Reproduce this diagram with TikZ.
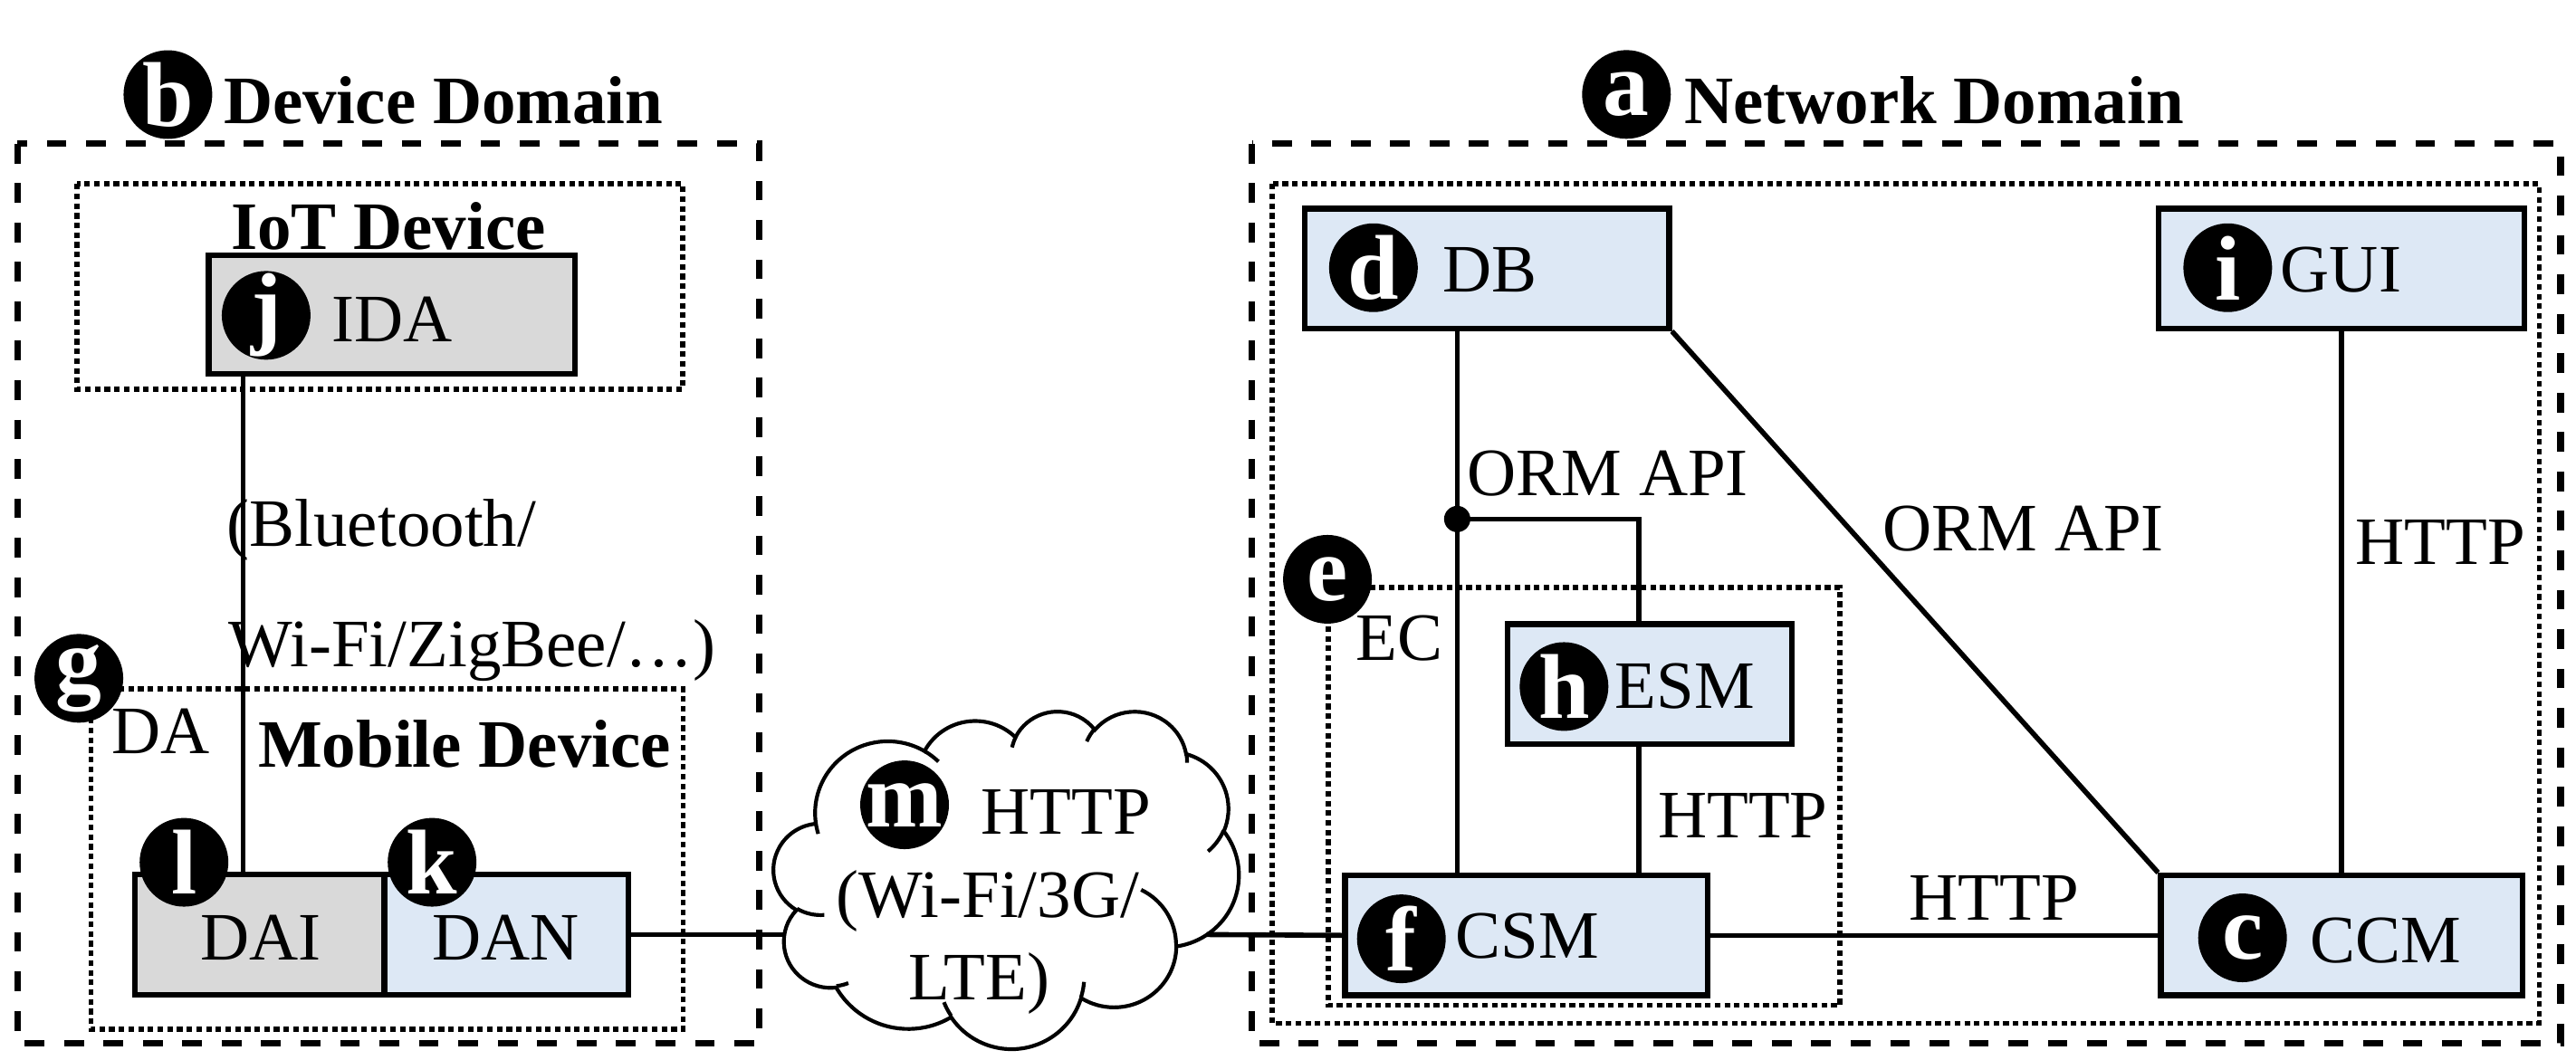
\documentclass[tikz,border=0pt]{standalone}
\usepackage{fontspec}
\setmainfont{Liberation Serif}
\definecolor{boxblue}{HTML}{DDE8F5}
\definecolor{boxgray}{HTML}{D9D9D9}
\begin{document}
\begin{tikzpicture}[x=1pt,y=-1pt,
  txt/.style={inner sep=0pt, anchor=base west, font=\fontsize{41.3}{48}\selectfont},
  ttl/.style={inner sep=0pt, anchor=base west, font=\fontsize{41.3}{48}\selectfont\bfseries},
  comp/.style={draw, line width=3.4pt, rectangle, inner sep=0pt},
  bluebox/.style={comp, fill=boxblue},
  graybox/.style={comp, fill=boxgray},
  badge/.style={circle, fill=black, inner sep=0pt, minimum size=54pt, text=white, font=\fontsize{56}{60}\selectfont\bfseries},
  domainbox/.style={draw, line width=3.9pt, dash pattern=on 12pt off 12pt},
  groupbox/.style={draw, line width=3.1pt, dash pattern=on 3.4pt off 2.5pt},
  conn/.style={line width=3.1pt},
]
\useasboundingbox (0,0) rectangle (1568,645);

% ---------- containers ----------
\draw[domainbox] (10.5,87.5) rectangle (462,635);
\draw[domainbox] (762,87.5) rectangle (1558.6,635);
\draw[groupbox] (47,112) rectangle (415.6,237);
\draw[groupbox] (55.3,419.5) rectangle (415.8,626.7);
\draw[groupbox] (774.5,112) rectangle (1545.6,623);
\draw[groupbox] (808.4,357.7) rectangle (1120,612);

% ---------- titles ----------
\node[ttl] (devtitle) at (136,75.5) {Device Domain};
\node[ttl] (nettitle) at (1025,75.5) {Network Domain};
\node[ttl] (iottitle) at (140.5,151.6) {IoT Device};
\node[ttl] (mobtitle) at (157,467) {Mobile Device};
\node[txt] (datitle) at (68,459) {DA};
\node[txt] (ectitle) at (825,402) {EC};

% ---------- component boxes ----------
\node[graybox, minimum width=223pt, minimum height=72pt] (IDA) at (238.5,191.5) {};
\node[graybox, minimum width=152pt, minimum height=73pt] (DAI) at (158,569) {};
\node[bluebox, minimum width=148.5pt, minimum height=73pt] (DAN) at (308.25,569) {};
\node[bluebox, minimum width=222pt, minimum height=73pt] (DB) at (905,163.5) {};
\node[bluebox, minimum width=222.6pt, minimum height=73pt] (GUI) at (1425.3,163.5) {};
\node[bluebox, minimum width=173pt, minimum height=73pt] (ESM) at (1004,416.5) {};
\node[bluebox, minimum width=220.5pt, minimum height=73pt] (CSM) at (929,569.5) {};
\node[bluebox, minimum width=220pt, minimum height=73pt] (CCM) at (1425.3,569.5) {};

% ---------- cloud ----------
\begin{scope}[shift={(471,432.6)}, x=0.6551pt, y=-0.4755pt]
\draw[line width=2.3pt, fill=white] (39.00,143.70)
  arc[start angle=-187.75, end angle=-59.64, x radius=67.53, y radius=91.90]
  arc[start angle=-152.02, end angle=-45.46, x radius=53.33, y radius=72.67]
  arc[start angle=-153.48, end angle=-37.32, x radius=43.65, y radius=59.45]
  arc[start angle=-139.69, end angle=-10.21, x radius=48.57, y radius=65.95]
  arc[start angle=-74.77, end angle=23.21, x radius=53.33, y radius=72.73]
  arc[start angle=-37.53, end angle=81.86, x radius=67.75, y radius=92.20]
  arc[start angle=0.46, end angle=121.98, x radius=57.85, y radius=78.67]
  arc[start angle=16.84, end angle=146.24, x radius=67.52, y radius=92.15]
  arc[start angle=58.98, end angle=150.20, x radius=77.20, y radius=105.43]
  arc[start angle=-276.69, end angle=-136.90, x radius=43.60, y radius=59.18]
  arc[start angle=-239.64, end angle=-95.89, x radius=43.45, y radius=59.45]
  -- cycle;
\draw[line width=2.3pt]
  (46.93,261.77) arc[start angle=85.55, end angle=120.36, x radius=43.45, y radius=59.45]
  (69.28,348.99) arc[start angle=68.23, end angle=83.30, x radius=43.60, y radius=59.18]
  (164.78,390.90) arc[start angle=146.24, end angle=158.47, x radius=67.52, y radius=92.15]
  (288.27,347.51) arc[start angle=4.74, end angle=16.84, x radius=67.52, y radius=92.15]
  (341.29,229.54) arc[start angle=-64.03, end angle=0.46, x radius=57.85, y radius=78.67]
  (417.98,153.54) arc[start angle=23.21, end angle=49.64, x radius=53.33, y radius=72.73]
  (383.24,54.26) arc[start angle=-10.21, end angle=0.82, x radius=48.57, y radius=65.95]
  (290.78,39.52) arc[start angle=-156.29, end angle=-139.69, x radius=48.57, y radius=65.95]
  (221.41,47.20) arc[start angle=-167.73, end angle=-153.48, x radius=43.65, y radius=59.45]
  (140.00,51.92) arc[start angle=-59.64, end angle=-45.74, x radius=67.53, y radius=91.90]
  (41.27,157.89) arc[start angle=163.19, end angle=172.26, x radius=67.53, y radius=91.90];
\end{scope}
\coordinate (cloudL) at (477,569);
\coordinate (cloudR) at (734.5,569);
\node[txt] (cloudt1) at (597,508) {HTTP};
\node[txt] (cloudt2) at (509,558.5) {(Wi-Fi/3G/};
\node[txt] (cloudt3) at (553,609) {LTE)};

% ---------- connectors ----------
\coordinate (iotx) at (148,0);
\coordinate (jn) at (887,316);
\coordinate (esmx) at (997.5,0);
\draw[conn] (iotx |- IDA.south) -- (iotx |- DAI.north);
\draw[conn] (DAN.east) -- (cloudL);
\draw[conn] (cloudR) -- (CSM.west);
\draw[conn] (jn |- DB.south) -- (jn |- CSM.north);
\draw[conn] (jn) -| (esmx |- ESM.north);
\draw[conn] (esmx |- ESM.south) -- (esmx |- CSM.north);
\fill (jn) circle[radius=8pt];
\draw[conn] (DB.south east) -- (CCM.north west);
\draw[conn] (GUI.south) -- (CCM.north);
\draw[conn] (CSM.east) -- (CCM.west);

% ---------- connector labels ----------
\node[txt] (lblbt1) at (138,332.5) {(Bluetooth/};
\node[txt] (lblbt2) at (139,406) {Wi-Fi/ZigBee/…)};
\node[txt] (lblorm1) at (893,301.5) {ORM API};
\node[txt] (lblorm2) at (1146,335.6) {ORM API};
\node[txt] (lblhttp1) at (1433.6,343.5) {HTTP};
\node[txt] (lblhttp2) at (1009,510) {HTTP};
\node[txt] (lblhttp3) at (1162,560.5) {HTTP};

% ---------- box texts ----------
\node[txt] (IDAt) at (202,208) {IDA};
\node[txt] (DAIt) at (122,584.7) {DAI};
\node[txt] (DANt) at (263,584.7) {DAN};
\node[txt] (DBt) at (878,178) {DB};
\node[txt] (GUIt) at (1388,178) {GUI};
\node[txt] (ESMt) at (983,431) {ESM};
\node[txt] (CSMt) at (886,583.6) {CSM};
\node[txt] (CCMt) at (1406,586) {CCM};

% ---------- badges ----------
\node[badge] (ba) at (990,57.5) {a};
\node[badge] (bb) at (102.2,57.6) {b};
\node[badge] (bc) at (1365,571) {c};
\node[badge] (bd) at (836,163) {d};
\node[badge] (be) at (808,352.7) {e};
\node[badge] (bf) at (853,571.6) {f};
\node[badge] (bg) at (48,413) {g};
\node[badge] (bh) at (952,418) {h};
\node[badge] (bi) at (1356,163) {i};
\node[badge] (bj) at (162,192) {j};
\node[badge] (bk) at (263,525) {k};
\node[badge] (bl) at (112,525) {l};
\node[badge] (bm) at (550.6,490) {m};
\end{tikzpicture}
\end{document}
